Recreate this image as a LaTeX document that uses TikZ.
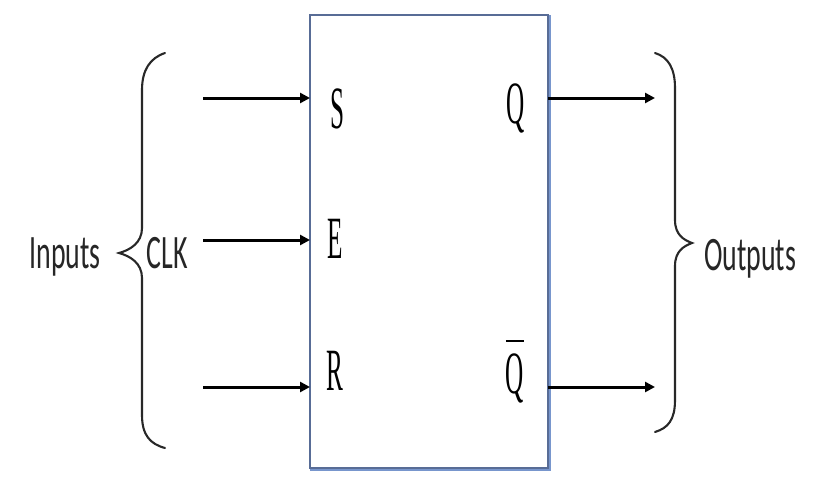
\documentclass[tikz,border=0pt]{standalone}
\usepackage{fontspec}
\setmainfont{Liberation Serif}
\newfontfamily\lblfont{Carlito}
\usetikzlibrary{arrows.meta}
\definecolor{boxcol}{RGB}{88,108,150}
\definecolor{boxblue}{RGB}{120,150,205}
\definecolor{bracecol}{RGB}{40,40,40}
\tikzset{
  pin/.style={line width=3pt, draw=black, -{Triangle[length=10pt,width=10pt]}},
  brace/.style={line width=2.1pt, draw=bracecol, line cap=round},
  lbl/.style={font=\lblfont\fontsize{48}{48}\selectfont, xscale=0.58, inner sep=0pt, anchor=base, text=black!85},
  sig/.style={font=\fontsize{60}{60}\selectfont, xscale=0.42, inner sep=0pt, anchor=base},
}
\begin{document}
\begin{tikzpicture}[x=1pt,y=-1pt]
\useasboundingbox (0,0) rectangle (820,482);
% block
\node[draw=boxcol, line width=2.2pt, minimum width=238pt, minimum height=453pt, inner sep=0pt, outer sep=0pt] (ff) at (429,241.5) {};
\draw[boxblue, line width=1.8pt] ([xshift=2pt]ff.north east) -- ([xshift=2pt,yshift=-2pt]ff.south east) -- ([yshift=-2pt]ff.south west);
% labels inside
\node[sig] (s) at (338,128) {S};
\node[sig] (e) at (335,258) {E};
\node[sig] (r) at (335,390) {R};
\node[sig] (q) at (516,123) {Q};
\node[sig] (qb) at (515,393) {\vbox{\hrule height 2.4pt\kern 11pt\hbox{Q}}};
% input arrows
\coordinate (sin) at (203,98);
\coordinate (ein) at (203,240);
\coordinate (rin) at (203,387);
\draw[pin] (sin) -- (sin -| ff.west);
\draw[pin] (ein) -- (ein -| ff.west);
\draw[pin] (rin) -- (rin -| ff.west);
% output arrows
\coordinate (qout) at (655,98);
\coordinate (qbout) at (655,387);
\draw[pin] (qout -| ff.east) -- (qout);
\draw[pin] (qbout -| ff.east) -- (qbout);
% left brace
\coordinate (lb1) at (165,53);
\coordinate (lbc) at (119,253);
\coordinate (lb2) at (165,448);
\draw[brace] (lb1) .. controls (150,58) and (142,70) .. (142,90)
  -- (142,228) .. controls (142,243) and (130,250) .. (lbc)
  .. controls (130,256) and (142,263) .. (142,278)
  -- (142,415) .. controls (142,435) and (150,444) .. (lb2);
% right brace
\coordinate (rb1) at (655,53);
\coordinate (rbc) at (692,243);
\coordinate (rb2) at (655,432);
\draw[brace] (rb1) .. controls (668,57) and (675,68) .. (675,88)
  -- (675,220) .. controls (675,235) and (684,240) .. (rbc)
  .. controls (684,246) and (675,251) .. (675,266)
  -- (675,400) .. controls (675,420) and (668,428) .. (rb2);
% side labels
\node[lbl] (inputs) at (65,268) {Inputs};
\node[lbl] (clk) at (167,268) {CLK};
\node[lbl] (outputs) at (750,270) {Outputs};
\end{tikzpicture}
\end{document}
